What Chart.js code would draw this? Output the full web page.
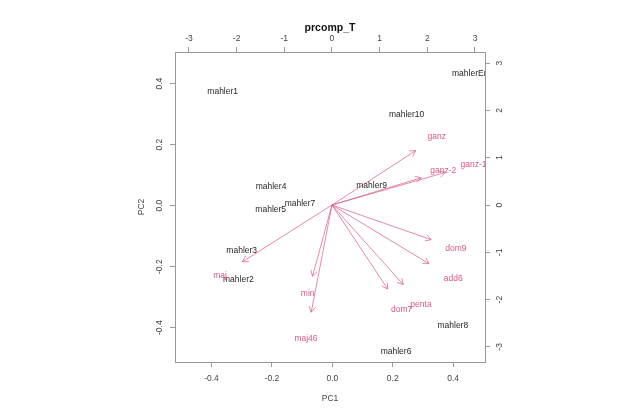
<!DOCTYPE html>
<html><head><meta charset="utf-8">
<script src="https://cdn.jsdelivr.net/npm/chart.js@4.4.1/dist/chart.umd.min.js"></script>
<style>html,body{margin:0;padding:0;background:#fff}#wrap{width:640px;height:415px;position:relative}</style>
</head><body><div id="wrap"><canvas id="c"></canvas></div>
<script>
// ---- data ----
const scoreLabels = ['mahler1','mahler2','mahler3','mahler4','mahler5','mahler6','mahler7','mahler8','mahler9','mahler10','mahlerErde'];
const pc1 = [-0.363,-0.311,-0.300,-0.203,-0.204,0.211,-0.107,0.399,0.130,0.246,0.469];
const pc2 = [0.375,-0.244,-0.149,0.061,-0.014,-0.479,0.007,-0.393,0.065,0.298,0.432];

const loadingLabels = ['ganz','ganz-1','ganz-2','dom9','add6','penta','dom7','maj','min','maj46'];
const load1 = [2.196,2.968,2.335,2.601,2.545,1.867,1.462,-2.349,-0.510,-0.545];
const load2 = [1.438,0.860,0.719,-0.915,-1.550,-2.099,-2.220,-1.501,-1.882,-2.833];

const bottomTicks = [-0.4,-0.2,0.0,0.2,0.4];
const leftTicks = [-0.4,-0.2,0.0,0.2,0.4];
const topTicks = [-3,-2,-1,0,1,2,3];
const rightTicks = [-3,-2,-1,0,1,2,3];

const mainTitle = 'prcomp_T';
const xTitle = 'PC1';
const yTitle = 'PC2';
const arrowFrac = 0.8; // biplot convention: arrows to 0.8 x loading

// ---- styling ----
const FONT = "'Liberation Sans', Arial, sans-serif";
const TXT = '#262626';
const TICKTXT = '#444444';
const AXC = '#999999';
const RED = '#D65A80';
const FS = 8.5;

const datasets = [];
datasets.push({
  label:'scores', data: pc1.map((v,i)=>({x:v,y:pc2[i]})),
  xAxisID:'x', yAxisID:'y', pointRadius:0, showLine:false, labels: scoreLabels, textColor: TXT
});
datasets.push({
  label:'loadings', data: load1.map((v,i)=>({x:v,y:load2[i]})),
  xAxisID:'x2', yAxisID:'y2', pointRadius:0, showLine:false, labels: loadingLabels, textColor: RED
});
load1.forEach((v,i)=>{
  datasets.push({
    label:'arrow'+i, arrow:true,
    data:[{x:0,y:0},{x:v*arrowFrac,y:load2[i]*arrowFrac}],
    xAxisID:'x2', yAxisID:'y2', showLine:true, pointRadius:0,
    borderColor:RED, borderWidth:0.7, fill:false
  });
});

const textPlugin = {
  id:'textPlugin',
  afterDatasetsDraw(chart){
    const ctx = chart.ctx, a = chart.chartArea;
    ctx.save();
    ctx.beginPath(); ctx.rect(a.left, a.top, a.right-a.left, a.bottom-a.top); ctx.clip();
    chart.data.datasets.forEach((ds,di)=>{
      const meta = chart.getDatasetMeta(di);
      if (ds.arrow){
        const p0 = meta.data[0], p1 = meta.data[1];
        const ang = Math.atan2(p1.y-p0.y, p1.x-p0.x);
        const L = 6.5, h = Math.PI/6;
        ctx.strokeStyle = RED; ctx.lineWidth = 0.7;
        ctx.beginPath();
        ctx.moveTo(p1.x - L*Math.cos(ang-h), p1.y - L*Math.sin(ang-h));
        ctx.lineTo(p1.x, p1.y);
        ctx.lineTo(p1.x - L*Math.cos(ang+h), p1.y - L*Math.sin(ang+h));
        ctx.stroke();
      } else if (ds.labels){
        ctx.font = FS + 'px ' + FONT;
        ctx.fillStyle = ds.textColor;
        ctx.textAlign = 'center'; ctx.textBaseline = 'middle';
        meta.data.forEach((pt,i)=>{ ctx.fillText(ds.labels[i], pt.x, pt.y); });
      }
    });
    ctx.restore();
  },
  afterDraw(chart){
    const ctx = chart.ctx, a = chart.chartArea;
    const cx = (a.left+a.right)/2, cy = (a.top+a.bottom)/2;
    ctx.save();
    ctx.fillStyle = '#111';
    ctx.textAlign='center'; ctx.textBaseline='middle';
    ctx.font = 'bold 10.5px ' + FONT;
    ctx.fillText(mainTitle, cx, 28);
    ctx.fillStyle = TICKTXT;
    ctx.font = FS + 'px ' + FONT;
    ctx.fillText(xTitle, cx, 399);
    ctx.translate(141.7, cy); ctx.rotate(-Math.PI/2);
    ctx.fillText(yTitle, 0, 0);
    ctx.restore();
  }
};

function fixTicks(arr){ return s => { s.ticks = arr.map(v=>({value:v})); }; }
const gridOpt = {display:true, drawOnChartArea:false, drawTicks:true, tickLength:5, color:AXC, lineWidth:1};
const borderOpt = {display:true, color:AXC, width:1};
const tickFont = {family:FONT, size:FS};

new Chart(document.getElementById('c'), {
  type:'scatter',
  data:{datasets},
  plugins:[textPlugin],
  options:{
    responsive:true, maintainAspectRatio:false, animation:false,
    layout:{padding:0},
    plugins:{legend:{display:false}, tooltip:{enabled:false}, title:{display:false}},
    scales:{
      x:{type:'linear', position:'bottom', min:-0.5209, max:0.5056,
         afterBuildTicks:fixTicks(bottomTicks), afterFit:s=>{s.height=53;},
         grid:gridOpt, border:borderOpt,
         ticks:{font:tickFont, color:TICKTXT, padding:6.2, maxRotation:0, minRotation:0, autoSkip:false,
                callback:v=>Number(v).toFixed(1)}},
      x2:{type:'linear', position:'top', min:-3.293, max:3.210,
         afterBuildTicks:fixTicks(topTicks), afterFit:s=>{s.height=52;},
         grid:gridOpt, border:borderOpt,
         ticks:{font:tickFont, color:TICKTXT, padding:3.6, maxRotation:0, minRotation:0, autoSkip:false,
                callback:v=>String(Math.round(v))}},
      y:{type:'linear', position:'left', min:-0.5125, max:0.5039,
         afterBuildTicks:fixTicks(leftTicks), afterFit:s=>{s.width=175;},
         grid:gridOpt, border:borderOpt,
         ticks:{font:tickFont, color:TICKTXT, padding:2.9, minRotation:90, maxRotation:90, crossAlign:'center', autoSkip:false,
                callback:v=>Number(v).toFixed(1)}},
      y2:{type:'linear', position:'right', min:-3.319, max:3.235,
         afterBuildTicks:fixTicks(rightTicks), afterFit:s=>{s.width=155;},
         grid:gridOpt, border:borderOpt,
         ticks:{font:tickFont, color:TICKTXT, padding:5.5, minRotation:90, maxRotation:90, crossAlign:'center', autoSkip:false,
                callback:v=>String(Math.round(v))}}
    }
  }
});
</script></body></html>
